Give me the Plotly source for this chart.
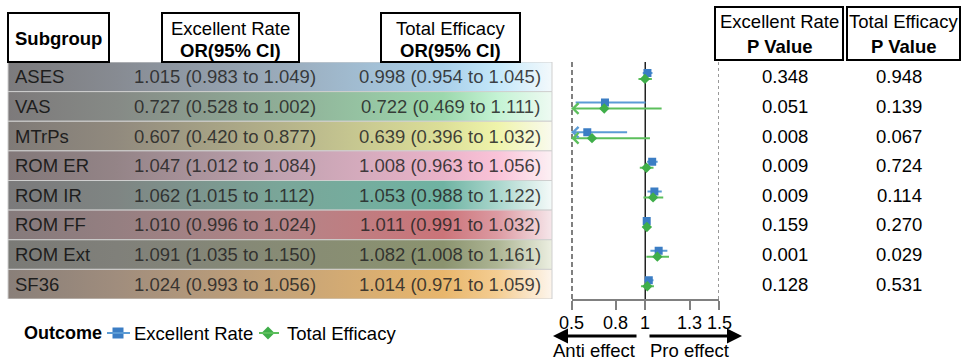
import plotly.graph_objects as go

# ---- data -----------------------------------------------------------------
subgroups = ["ASES", "VAS", "MTrPs", "ROM ER", "ROM IR", "ROM FF", "ROM Ext", "SF36"]

er_or = [1.015, 0.727, 0.607, 1.047, 1.062, 1.010, 1.091, 1.024]
er_lo = [0.983, 0.528, 0.420, 1.012, 1.015, 0.996, 1.035, 0.993]
er_hi = [1.049, 1.002, 0.877, 1.084, 1.112, 1.024, 1.150, 1.056]

te_or = [0.998, 0.722, 0.639, 1.008, 1.053, 1.011, 1.082, 1.014]
te_lo = [0.954, 0.469, 0.396, 0.963, 0.988, 0.991, 1.008, 0.971]
te_hi = [1.045, 1.111, 1.032, 1.056, 1.122, 1.032, 1.161, 1.059]

er_p = ["0.348", "0.051", "0.008", "0.009", "0.009", "0.159", "0.001", "0.128"]
te_p = ["0.948", "0.139", "0.067", "0.724", "0.114", "0.270", "0.029", "0.531"]

x_ticks = [0.5, 0.8, 1, 1.3, 1.5]
x_ticklabels = ["0.5", "0.8", "1", "1.3", "1.5"]

# row band colours, left (grey) to right (pale)
row_colors = [
    ["#7c7b7d", "#878b92", "#9aabbb", "#a9cfe9", "#c4e8fa", "#f3f9fc"],
    ["#7d7a7b", "#868a86", "#8fae97", "#9cd8ad", "#c4f3d4", "#eefaf2"],
    ["#7f7a77", "#918a7e", "#b4b28a", "#dcdf98", "#eff4ab", "#f9faee"],
    ["#827879", "#948487", "#c0a2b0", "#eab3c9", "#fac3d8", "#fcf0f4"],
    ["#7b7a7b", "#7f8583", "#7aa699", "#6fb3a2", "#a9d6cc", "#f4faf9"],
    ["#857a7b", "#957f81", "#b48588", "#cb7479", "#dc9aa2", "#f6e6ea"],
    ["#7a7a76", "#80807a", "#878b75", "#8b936f", "#adb594", "#ecefe1"],
    ["#897f79", "#a08d7d", "#c5a378", "#e8b66c", "#f4cd92", "#fdf5ec"],
]
stops = [0.0, 0.2, 0.5, 0.8, 0.9, 1.0]

# ---- layout constants (pixels) ---------------------------------------------
W, H = 962, 360
TOP, BOTTOM = 62, 299
FX0, FX1 = 571.5, 719
FONT = "Liberation Sans, Arial, sans-serif"
FS = 18.5
BLUE, BLUE_L = "#3b7dc4", "#5b9bd5"
GREEN, GREEN_L = "#3fae49", "#5cbf5c"

n = len(subgroups)
rows = list(range(n))

fig = go.Figure()

# table row bands with horizontal gradients
TX0, TX1 = 8, 552
for i in rows:
    fig.add_trace(go.Scatter(
        x=[TX0, TX1, TX1, TX0, TX0],
        y=[i - 0.5, i - 0.5, i + 0.5, i + 0.5, i - 0.5],
        xaxis="x2", yaxis="y", mode="lines", fill="toself",
        fillgradient=dict(type="horizontal",
                          colorscale=[[s, c] for s, c in zip(stops, row_colors[i])]),
        line=dict(color="#cfcfcf", width=1),
        hoverinfo="skip", showlegend=False,
    ))

# reference lines at 0.5, 1 and 1.5 (drawn as traces so markers sit on top)
ref_lines = [(0.5, "black", "5px,3px", 2), (1, "#222222", "solid", 1.5),
             (1.5, "#777777", "dot", 1.5)]
for xv, col, dash, lw in ref_lines:
    fig.add_trace(go.Scatter(
        x=[xv, xv], y=[-0.5, n - 0.5], mode="lines", cliponaxis=False,
        line=dict(color=col, width=lw, dash=dash),
        hoverinfo="skip", showlegend=False,
    ))

# forest plot points with CIs
y_er = [i - 0.13 for i in rows]
y_te = [i + 0.07 for i in rows]
fig.add_trace(go.Scatter(
    x=er_or, y=y_er, mode="markers", name="Excellent Rate", showlegend=False,
    marker=dict(symbol="square", size=8, color=BLUE),
    error_x=dict(type="data", symmetric=False,
                 array=[h - o for o, h in zip(er_or, er_hi)],
                 arrayminus=[o - l for o, l in zip(er_or, er_lo)],
                 width=0, thickness=2, color=BLUE_L),
))
fig.add_trace(go.Scatter(
    x=te_or, y=y_te, mode="markers", name="Total Efficacy", showlegend=False,
    marker=dict(symbol="diamond", size=8, color=GREEN),
    error_x=dict(type="data", symmetric=False,
                 array=[h - o for o, h in zip(te_or, te_hi)],
                 arrayminus=[o - l for o, l in zip(te_or, te_lo)],
                 width=0, thickness=2, color=GREEN_L),
))

annotations = []
shapes = []

# arrowheads where a CI runs past the left end of the axis
xmin = x_ticks[0]
for lows, ys, col in ((er_lo, y_er, BLUE_L), (te_lo, y_te, GREEN_L)):
    for lo, yy in zip(lows, ys):
        if lo < xmin:
            annotations.append(dict(
                x=xmin, y=yy, ax=xmin + 0.04, ay=yy, xref="x", yref="y",
                axref="x", ayref="y", text="", showarrow=True,
                arrowhead=4, arrowsize=1.3, arrowwidth=1.6, arrowcolor=col))


def text(x, y, s, xref="x2", yref="y2", size=FS, color="black", xanchor="center"):
    annotations.append(dict(x=x, y=y, xref=xref, yref=yref, text=s, showarrow=False,
                            xanchor=xanchor, yanchor="middle",
                            font=dict(family=FONT, size=size, color=color)))


def box(x0, y0, x1, y1):
    shapes.append(dict(type="rect", xref="x2", yref="y2", x0=x0, y0=y0, x1=x1, y1=y1,
                       line=dict(color="black", width=2), fillcolor="white"))


# header boxes
box(8, 13, 109, 62)
text(58.5, 38, "<b>Subgroup</b>")
box(162, 13, 299, 62)
text(230.5, 28, "Excellent Rate")
text(230.5, 50, "<b>OR(95% CI)</b>")
box(381, 13, 520, 62)
text(450.5, 28, "Total Efficacy")
text(450.5, 50, "<b>OR(95% CI)</b>")
box(715, 7, 843, 60)
text(779, 21.5, "Excellent Rate")
text(779, 46.5, "<b>P Value</b>")
box(847, 7, 960, 60)
text(903.5, 21.5, "Total Efficacy")
text(903.5, 46.5, "<b>P Value</b>")

# table cells
for i in rows:
    text(13, i, subgroups[i], yref="y", color="#1e1e1e", xanchor="left")
    text(224.5, i, f"{er_or[i]:.3f} ({er_lo[i]:.3f} to {er_hi[i]:.3f})", yref="y",
         color="rgba(35,35,35,0.85)")
    text(450, i, f"{te_or[i]:.3f} ({te_lo[i]:.3f} to {te_hi[i]:.3f})", yref="y",
         color="rgba(35,35,35,0.85)")
    text(785, i, er_p[i], yref="y")
    text(899, i, te_p[i], yref="y")

# x tick labels placed on the forest axis values
for tv, tl in zip(x_ticks, x_ticklabels):
    text(tv, 322.5, tl, xref="x", size=18)

# effect direction arrows
for x_tail, x_head in ((638, 553), (648, 742)):
    annotations.append(dict(x=x_head, y=336, ax=x_tail, ay=336, xref="x2", yref="y2",
                            axref="x2", ayref="y2", text="", showarrow=True,
                            arrowhead=2, arrowsize=1, arrowwidth=3, arrowcolor="black"))
text(593.5, 350, "Anti effect")
text(689.5, 350, "Pro effect")

# legend
text(22, 333, "<b>Outcome</b>", xanchor="left", size=18)
shapes.append(dict(type="line", xref="x2", yref="y2", x0=107, x1=130, y0=333, y1=333,
                   line=dict(color=BLUE_L, width=2)))
shapes.append(dict(type="line", xref="x2", yref="y2", x0=259, x1=279, y0=333, y1=333,
                   line=dict(color=GREEN_L, width=2)))
fig.add_trace(go.Scatter(x=[118], y=[333], xaxis="x2", yaxis="y2", mode="markers",
                         marker=dict(symbol="square", size=11, color=BLUE),
                         hoverinfo="skip", showlegend=False))
fig.add_trace(go.Scatter(x=[268], y=[333], xaxis="x2", yaxis="y2", mode="markers",
                         marker=dict(symbol="diamond", size=10, color=GREEN),
                         hoverinfo="skip", showlegend=False))
text(132, 333, "Excellent Rate", xanchor="left")
text(285, 333, "Total Efficacy", xanchor="left")

fig.update_layout(
    template="none",
    width=W, height=H, margin=dict(l=0, r=0, t=0, b=0, autoexpand=False),
    paper_bgcolor="white", plot_bgcolor="rgba(0,0,0,0)",
    showlegend=False,
    xaxis=dict(domain=[FX0 / W, FX1 / W], range=[0.5, 1.5], anchor="y",
               automargin=False,
               showgrid=False, zeroline=False, showline=True, linecolor="#808080",
               linewidth=1.5, ticks="outside", ticklen=9, tickwidth=1.5,
               tickcolor="#808080", tickvals=x_ticks, showticklabels=False),
    yaxis=dict(domain=[(H - BOTTOM) / H, (H - TOP) / H], range=[n - 0.5, -0.5],
               anchor="x", visible=False, automargin=False),
    xaxis2=dict(domain=[0, 1], range=[0, W], anchor="y2", visible=False,
                automargin=False),
    yaxis2=dict(domain=[0, 1], range=[H, 0], anchor="x2", visible=False,
                automargin=False),
    annotations=annotations,
    shapes=shapes,
)

fig.write_html("out.html")
